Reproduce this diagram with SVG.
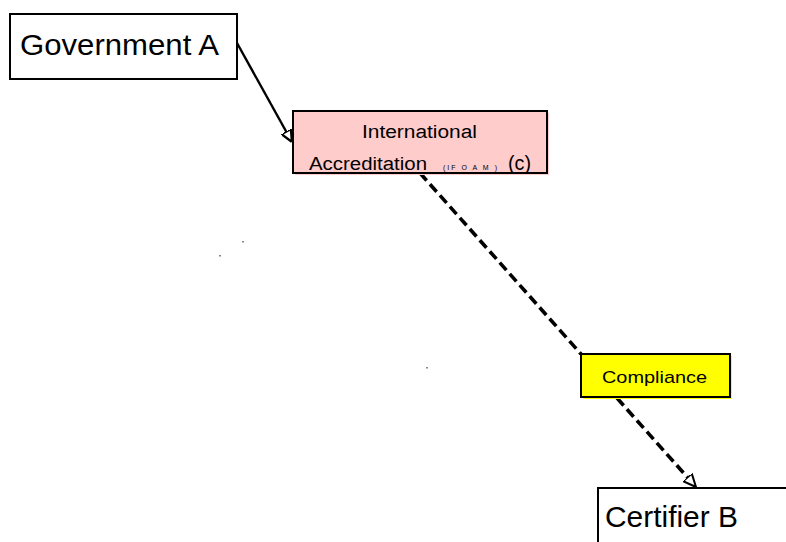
<svg xmlns="http://www.w3.org/2000/svg" width="786" height="542" viewBox="0 0 786 542">
<style>
  .box { stroke: #000; stroke-width: 2; }
  .lbl { font-family: "Liberation Sans", Arial, sans-serif; fill: #000; }
  .solid { stroke: #000; stroke-width: 2.4; fill: none; }
  .dash { stroke: #000; stroke-width: 3.6; fill: none; stroke-dasharray: 10 5; }
</style>
<defs>
  <marker id="arr" viewBox="0 0 10 10" refX="10" refY="5" markerWidth="5" markerHeight="5" orient="auto" markerUnits="strokeWidth">
    <path d="M0,0.5 L10,5 L0,9.5 Z" fill="#fff" stroke="#000" stroke-width="2"/>
  </marker>
  <marker id="arr2" viewBox="0 0 10 10" refX="10" refY="5" markerWidth="3.6" markerHeight="3.6" orient="auto" markerUnits="strokeWidth">
    <path d="M0,0.5 L10,5 L0,9.5 Z" fill="#fff" stroke="#000" stroke-width="1.6"/>
  </marker>
</defs>
<rect width="786" height="542" fill="#fff"/>
<g id="connectors">
  <line class="solid" x1="237" y1="43" x2="292" y2="142" marker-end="url(#arr)"/>
  <line class="dash" x1="420" y1="173" x2="581" y2="354"/>
  <line class="dash" x1="617" y1="398" x2="696" y2="487" marker-end="url(#arr2)"/>
</g>
<g id="government-a">
  <rect class="box" x="10" y="14" width="227" height="65" fill="#fff"/>
  <text class="lbl" x="20" y="55" font-size="29" textLength="199" lengthAdjust="spacingAndGlyphs">Government A</text>
</g>
<g id="international-accreditation">
  <rect x="295" y="113" width="254" height="62" fill="#ffcccc"/>
  <rect class="box" x="293" y="111" width="254" height="62" fill="#ffcccc"/>
  <text class="lbl" x="362" y="138" font-size="18" textLength="115" lengthAdjust="spacingAndGlyphs">International</text>
  <text class="lbl" x="309" y="170" font-size="18" textLength="118" lengthAdjust="spacingAndGlyphs">Accreditation</text>
  <text class="lbl" x="443" y="170" font-size="7" textLength="54" lengthAdjust="spacing">(IF O A M )</text>
  <text class="lbl" x="508" y="170" font-size="20" textLength="23" lengthAdjust="spacingAndGlyphs">(c)</text>
</g>
<g id="compliance">
  <rect x="583" y="356" width="149" height="43" fill="#ffff00"/>
  <rect class="box" x="581" y="354" width="149" height="43" fill="#ffff00"/>
  <text class="lbl" x="602" y="383" font-size="17" textLength="105" lengthAdjust="spacingAndGlyphs">Compliance</text>
</g>
<g id="certifier-b">
  <rect class="box" x="598" y="488" width="200" height="70" fill="#fff"/>
  <text class="lbl" x="605" y="527" font-size="29" textLength="133" lengthAdjust="spacingAndGlyphs">Certifier B</text>
</g>
<g id="specks" fill="#888">
  <rect x="242" y="241" width="2" height="1.5"/>
  <rect x="219" y="255" width="2" height="1.5"/>
  <rect x="426" y="367" width="2" height="1.5"/>
</g>
</svg>
